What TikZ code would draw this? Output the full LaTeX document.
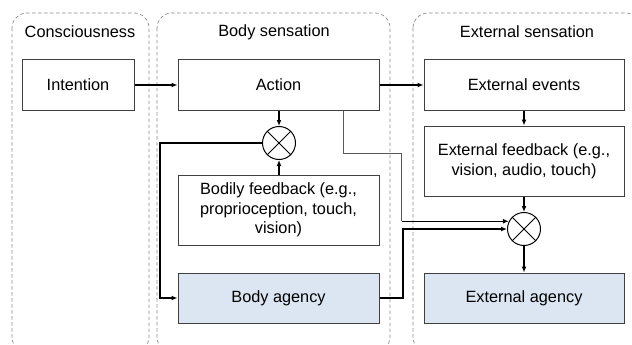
\documentclass[tikz,border=0pt]{standalone}
\usepackage{fontspec}
\setmainfont{Liberation Sans}
\usetikzlibrary{arrows.meta,calc}
\definecolor{agencyblue}{HTML}{DCE6F2}
\definecolor{boxline}{HTML}{404040}
\definecolor{panelline}{HTML}{8C8C8C}
\tikzset{
  panel/.style={draw=panelline, dashed, dash pattern=on 3.5pt off 2.5pt, line width=0.7pt, rounded corners=15pt},
  titletext/.style={font=\fontsize{16.3}{19.6}\selectfont},
  block/.style={draw=boxline, line width=1pt, fill=white, align=center, inner sep=0pt,
                font=\fontsize{16.3}{19.6}\selectfont},
  agency/.style={block, fill=agencyblue},
  mixer/.style={draw=black, line width=1pt, circle, minimum size=33pt, inner sep=0pt, fill=white},
  arr/.style={-{Latex[length=6pt,width=5pt]}, line width=1.2pt},
  thinline/.style={line width=0.8pt, draw=black!65},
}
\begin{document}
\begin{tikzpicture}[x=1pt,y=-1pt]
\useasboundingbox (0,0) rectangle (632,345);
\begin{scope}
\clip (0,0) rectangle (632,345);
\draw[panel] (12,13) rectangle (149,352);
\draw[panel] (157,13) rectangle (390,352);
\draw[panel] (413,13) rectangle (641,352);
\end{scope}
\node[titletext] (tc) at (80,32) {Consciousness};
\node[titletext] (tb) at (274,32) {Body sensation};
\node[titletext] (te) at (527,32) {External sensation};

\node[block, minimum width=112pt, minimum height=50pt] (intention) at (78,85) {Intention};
\node[block, minimum width=201pt, minimum height=50pt] (action) at (278.5,85) {Action};
\node[block, minimum width=200pt, minimum height=50pt] (events) at (524,85) {External events};
\node[block, minimum width=200pt, minimum height=70pt] (extfb) at (524,161) {External feedback (e.g.,\\vision, audio, touch)};
\node[mixer] (c1) at (279,143) {};
\node[block, minimum width=201pt, minimum height=70pt] (bodyfb) at (278.5,210) {Bodily feedback (e.g.,\\proprioception, touch,\\vision)};
\node[agency, minimum width=201pt, minimum height=50pt] (bodyag) at (278.5,298) {Body agency};
\node[mixer] (c2) at (524,229) {};
\node[agency, minimum width=200pt, minimum height=50pt] (extag) at (524,298) {External agency};

\draw[line width=0.9pt] (c1.45) -- (c1.225) (c1.135) -- (c1.315);
\draw[line width=0.9pt] (c2.45) -- (c2.225) (c2.135) -- (c2.315);

% connectors
\draw[arr] (intention.east) -- (action.west);
\draw[arr] (action.east) -- (events.west);
\draw[arr] (c1 |- action.south) -- (c1.north);
\draw[arr] (c1 |- bodyfb.north) -- (c1.south);
\coordinate (k1) at (160,143);
\draw[arr, line width=1.4pt] (c1.west) -- (k1) |- (bodyag.west);
\draw[arr] (events.south) -- (extfb.north);
\draw[arr] (extfb.south) -- (c2.north);
\draw[arr] (c2.south) -- (extag.north);

\coordinate (t1) at (343,153);
\coordinate (t2) at (401.7,153);
\coordinate (t3) at (t2 |- c2.153);
\draw[thinline] (action.south -| t1) -- (t1) -- (t2) -- (t3);
\draw[arr] (t3) -- (c2.153);

\coordinate (u1) at (403,298);
\coordinate (u2) at (403,229);
\draw[arr, line width=1.4pt] (bodyag.east) -- (u1) -- (u2) -- (c2.west);
\end{tikzpicture}
\end{document}
